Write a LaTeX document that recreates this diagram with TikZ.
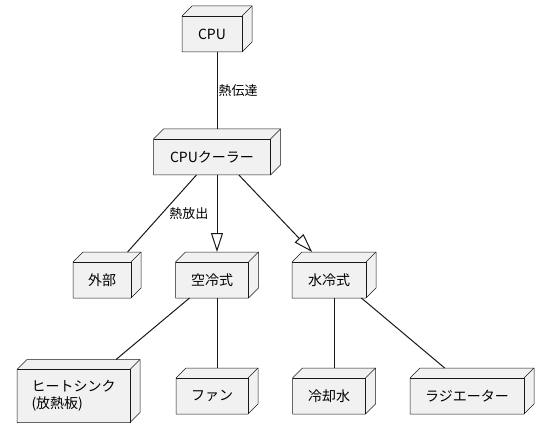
\documentclass[tikz,border=0pt]{standalone}
\usepackage{fontspec}
\setmainfont{Noto Sans CJK JP}
\usetikzlibrary{arrows.meta}
\definecolor{boxfill}{HTML}{F1F1F1}
\definecolor{boxline}{HTML}{181818}
\tikzstyle{box3d} = [rectangle, inner sep=0pt, outer sep=0pt, minimum height=46pt, append after command={\pgfextra{\let\cubenode\tikzlastnode
	\draw[boxline, line width=0.5pt, fill=boxfill, line join=round] (\cubenode.south west) -- ([yshift=-10pt]\cubenode.north west) -- ([xshift=10pt]\cubenode.north west) -- (\cubenode.north east) -- ([yshift=10pt]\cubenode.south east) -- ([xshift=-10pt]\cubenode.south east) -- cycle;
	\draw[boxline, line width=0.5pt] ([yshift=-10pt]\cubenode.north west) -| ([xshift=-10pt]\cubenode.south east);
	\draw[boxline, line width=0.5pt] ([shift={(-10pt,-10pt)}]\cubenode.north east) -- (\cubenode.north east);}}]
\tikzstyle{boxtext} = [xshift=-5pt, yshift=-5pt, align=left, inner sep=0pt, font=\fontsize{14pt}{17pt}\selectfont]
\tikzstyle{lbl} = [inner sep=1pt, font=\fontsize{13pt}{15pt}\selectfont]
\tikzstyle{link} = [draw=boxline, line width=1pt]
\tikzstyle{extends} = [link, -{Triangle[open, length=19pt, width=12pt]}]

\begin{document}
\begin{tikzpicture}[node distance=123pt]
	\useasboundingbox (0,0) rectangle (548pt,-438pt);
	\node (cpu) [box3d, minimum width=70pt, label={[boxtext]center:CPU}] at (217pt,-29pt) {};
	\node (cooler) [box3d, minimum width=127pt, below of=cpu, label={[boxtext]center:CPUクーラー}] {};
		\draw [link] (cpu) -- node[lbl, anchor=west] {熱伝達} (cooler);
	\node (air) [box3d, minimum width=83pt, below of=cooler, label={[boxtext]center:空冷式}] {};
	\node (outside) [box3d, minimum width=68pt, left of=air, xshift=13pt, label={[boxtext]center:外部}] {};
	\node (water) [box3d, minimum width=84pt, right of=air, xshift=-6pt, label={[boxtext]center:水冷式}] {};
		\draw [link] (cooler) -- node[lbl, anchor=west, xshift=6pt] {熱放出} (outside);
		\draw [extends] (cooler) -- (air);
		\draw [extends] (cooler) -- (water);
	\node (fan) [box3d, minimum width=82pt, below of=air, yshift=7pt, label={[boxtext]center:ファン}] {};
	\node (heatsink) [box3d, minimum width=123pt, minimum height=63pt, left of=fan, xshift=-15.5pt, label={[boxtext]center:{ヒートシンク\\(放熱板)}}] {};
	\node (coolant) [box3d, minimum width=83pt, right of=fan, xshift=-6pt, label={[boxtext]center:冷却水}] {};
	\node (radiator) [box3d, minimum width=124pt, right of=coolant, xshift=15pt, label={[boxtext]center:ラジエーター}] {};
		\draw [link] (air) -- (heatsink);
		\draw [link] (air) -- (fan);
		\draw [link] (water) -- (coolant);
		\draw [link] (water) -- (radiator);

\end{tikzpicture}
\end{document}
